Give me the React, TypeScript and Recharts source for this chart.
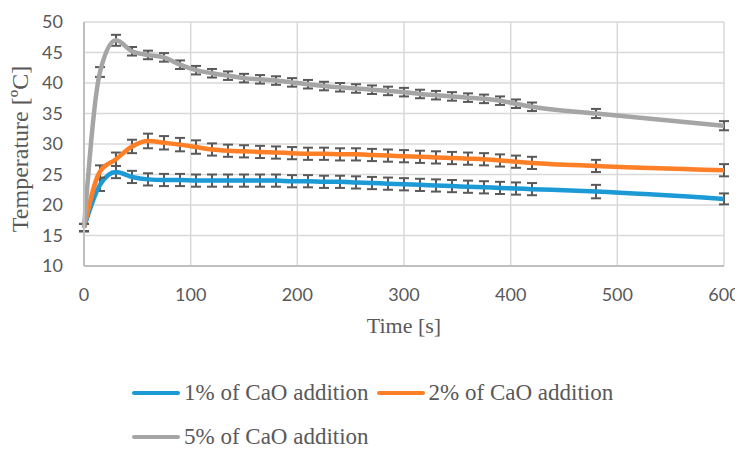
import React from 'react'
import {
  LineChart,
  Line,
  XAxis,
  YAxis,
  CartesianGrid,
  ErrorBar,
} from 'recharts'

const times = [
  0, 15, 30, 45, 60, 75, 90, 105, 120, 135, 150, 165, 180, 195, 210, 225, 240,
  255, 270, 285, 300, 315, 330, 345, 360, 375, 390, 405, 420, 480, 600,
]

const cao1 = [
  16.3, 23.3, 25.4, 24.6, 24.2, 24.1, 24.1, 24.0, 24.0, 24.0, 24.0, 24.0, 24.0,
  23.9, 23.9, 23.8, 23.8, 23.7, 23.6, 23.5, 23.4, 23.3, 23.2, 23.1, 23.0, 22.9,
  22.8, 22.7, 22.6, 22.2, 21.0,
]
const cao2 = [
  16.3, 25.5, 27.5, 29.6, 30.5, 30.2, 29.9, 29.5, 29.1, 28.9, 28.8, 28.7, 28.6,
  28.5, 28.4, 28.4, 28.3, 28.3, 28.2, 28.1, 28.0, 27.9, 27.8, 27.7, 27.6, 27.5,
  27.3, 27.1, 26.9, 26.4, 25.7,
]
const cao5 = [
  16.3, 41.8, 47.0, 45.2, 44.6, 44.2, 43.0, 42.1, 41.6, 41.2, 40.8, 40.6, 40.4,
  40.1, 39.8, 39.5, 39.3, 39.1, 38.9, 38.7, 38.5, 38.2, 38.0, 37.8, 37.6, 37.4,
  37.1, 36.6, 36.1, 35.0, 33.0,
]

const err1 = [
  0.6, 1.0, 1.0, 1.0, 1.0, 1.0, 1.0, 1.0, 1.0, 1.0, 1.0, 1.0, 1.0, 1.0, 1.0, 1.0,
  1.0, 1.0, 1.0, 1.0, 1.0, 1.0, 1.0, 1.0, 1.0, 1.0, 1.0, 1.0, 1.0, 1.1, 0.9,
]
const err2 = [
  0.6, 1.0, 1.1, 1.1, 1.2, 1.1, 1.1, 1.1, 1.0, 1.0, 1.0, 1.0, 1.0, 1.0, 1.0, 1.0,
  1.0, 1.0, 1.0, 1.0, 1.0, 1.0, 1.0, 1.0, 1.0, 1.0, 1.0, 1.0, 1.0, 1.0, 1.0,
]
const err5 = [
  0.6, 0.8, 0.9, 0.7, 0.7, 0.7, 0.7, 0.7, 0.7, 0.7, 0.7, 0.7, 0.7, 0.7, 0.7, 0.7,
  0.7, 0.7, 0.7, 0.7, 0.7, 0.7, 0.7, 0.7, 0.7, 0.7, 0.7, 0.7, 0.7, 0.75, 0.75,
]

const xTicks = [0, 100, 200, 300, 400, 500, 600]
const yTicks = [10, 15, 20, 25, 30, 35, 40, 45, 50]

const seriesNames = ['1% of CaO addition', '2% of CaO addition', '5% of CaO addition']
const seriesColors = ['#1b9ad6', '#ff7f27', '#a5a5a5']

const data = times.map((t, i) => ({
  t,
  s1: cao1[i],
  s2: cao2[i],
  s5: cao5[i],
  e1: err1[i],
  e2: err2[i],
  e5: err5[i],
}))

const serif = '"Liberation Serif", "Times New Roman", serif'
const sans = 'Lato, "Open Sans", sans-serif'
const textGray = '#595959'

const YTitle = () => (
  <text
    x={12}
    y={141}
    transform="rotate(-90 12 141)"
    textAnchor="middle"
    dominantBaseline="central"
    fontFamily={serif}
    fontSize={24}
    fill={textGray}
  >
    Temperature [ºC]
  </text>
)

export default function App() {
  const keys = ['s1', 's2', 's5']
  const errKeys = ['e1', 'e2', 'e5']
  return (
    <div style={{ position: 'relative', width: 735, height: 442 }}>
      <LineChart
        width={735}
        height={442}
        data={data}
        margin={{ top: 14, right: 19, left: 16, bottom: 154 }}
      >
        <CartesianGrid stroke="#d9d9d9" strokeWidth={1.5} />
        <XAxis
          dataKey="t"
          type="number"
          domain={[0, 600]}
          ticks={xTicks}
          height={30}
          tickSize={0}
          tickMargin={22}
          axisLine={{ stroke: '#bfbfbf', strokeWidth: 2 }}
          tick={{ fill: textGray, fontSize: 18, fontFamily: sans }}
          label={{
            value: 'Time [s]',
            position: 'bottom',
            offset: 21,
            fill: textGray,
            fontSize: 22,
            fontFamily: serif,
          }}
        />
        <YAxis
          type="number"
          domain={[10, 50]}
          ticks={yTicks}
          width={60}
          tickSize={0}
          tickMargin={21}
          axisLine={{ stroke: '#bfbfbf', strokeWidth: 2 }}
          tick={{ fill: textGray, fontSize: 18, fontFamily: sans }}
          label={{ content: YTitle }}
        />
        {keys.map((k, i) => (
          <Line
            key={k}
            dataKey={k}
            type="monotone"
            stroke={seriesColors[i]}
            strokeWidth={4.5}
            dot={false}
            isAnimationActive={false}
          >
            <ErrorBar
              dataKey={errKeys[i]}
              direction="y"
              width={5}
              stroke="#595959"
              strokeWidth={2}
            />
          </Line>
        ))}
      </LineChart>
      <div
        style={{
          position: 'absolute',
          left: 124,
          top: 363,
          width: 520,
          display: 'flex',
          flexWrap: 'wrap',
          fontFamily: serif,
          fontSize: 23,
          color: textGray,
        }}
      >
        {seriesNames.map((name, i) => (
          <div
            key={name}
            style={{
              display: 'flex',
              alignItems: 'center',
              height: 44,
              marginRight: 8,
            }}
          >
            <span
              style={{
                display: 'inline-block',
                width: 48,
                height: 4,
                borderRadius: 2,
                background: seriesColors[i],
                marginRight: 4,
              }}
            />
            <span>{name}</span>
          </div>
        ))}
      </div>
    </div>
  )
}
